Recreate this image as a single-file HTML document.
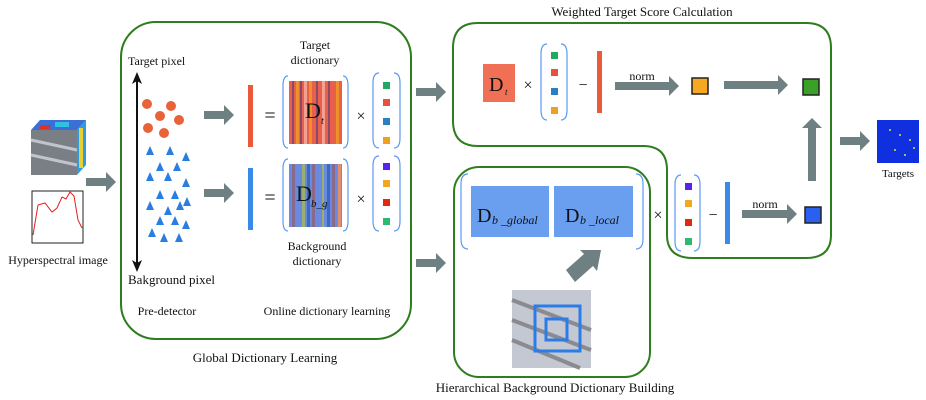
<!DOCTYPE html>
<html><head><style>body{margin:0;background:#fff}svg{display:block}text{font-family:"Liberation Serif",serif;fill:#111}</style></head><body>
<svg width="926" height="400" viewBox="0 0 926 400" xmlns="http://www.w3.org/2000/svg">
<defs>
<marker id="ah" markerUnits="userSpaceOnUse" markerWidth="12" markerHeight="10" refX="6" refY="5" orient="auto-start-reverse"><path d="M0,0L12,5L0,10L3,5z" fill="#111"/></marker>
<g id="ga"><path d="M0,-4H20V-10L30,0L20,10V4H0z" fill="#6f8083"/></g>
</defs>
<!-- left image -->
<rect x="31" y="130" width="46" height="45" fill="#7a7f86"/>
<path d="M31,130L40,120H86L77,130z" fill="#3b6fd8"/>
<path d="M77,130L86,120V165L77,175z" fill="#2f9be0"/>
<rect x="40" y="125" width="10" height="4" fill="#e03020"/>
<rect x="55" y="122" width="14" height="5" fill="#30c0e0"/>
<rect x="79" y="128" width="4" height="40" fill="#e8d030"/>
<path d="M31,140L77,150M31,155L77,165" stroke="#c0c4cc" stroke-width="3"/>
<rect x="32" y="191" width="51" height="52" fill="none" stroke="#222" stroke-width="1"/>
<polyline points="33,235 38,205 45,203 52,212 57,208 62,197 66,199 70,192 74,196 78,220 82,228" fill="none" stroke="#e02020" stroke-width="1"/>
<text x="58" y="264" font-size="12" text-anchor="middle">Hyperspectral image</text>
<use href="#ga" x="86" y="182"/>
<!-- global box -->
<rect x="121" y="22" width="290" height="317" rx="35" fill="none" stroke="#2e7d1e" stroke-width="2"/>
<text x="265" y="362" font-size="13" text-anchor="middle">Global Dictionary Learning</text>
<line x1="137" y1="78" x2="137" y2="266" stroke="#111" stroke-width="2" marker-start="url(#ah)" marker-end="url(#ah)"/>
<text x="128" y="65" font-size="12">Target pixel</text>
<text x="128" y="284" font-size="13">Bakground pixel</text>
<g fill="#e8623a"><circle cx="147" cy="104" r="5"/><circle cx="171" cy="106" r="5"/><circle cx="160" cy="116" r="5"/><circle cx="179" cy="120" r="5"/><circle cx="148" cy="128" r="5"/><circle cx="164" cy="133" r="5"/></g>
<g fill="#2a7de1">
<path d="M150,146l4,9h-8z M170,146l4,9h-8z M186,152l4,9h-8z M160,162l4,9h-8z M177,162l4,9h-8z M150,172l4,9h-8z M168,172l4,9h-8z M186,178l4,9h-8z M160,190l4,9h-8z M175,190l4,9h-8z M187,197l4,9h-8z M150,201l4,9h-8z M168,206l4,9h-8z M180,201l4,9h-8z M160,216l4,9h-8z M175,216l4,9h-8z M186,220l4,9h-8z M152,228l4,9h-8z M164,233l4,9h-8z M179,233l4,9h-8z"/></g>
<use href="#ga" x="204" y="115"/><use href="#ga" x="204" y="193"/>
<rect x="248" y="85" width="5" height="62" fill="#ea5a3a"/>
<rect x="248" y="168" width="5" height="62" fill="#3a8ae8"/>
<text x="270" y="122" font-size="20" text-anchor="middle">=</text>
<text x="270" y="204" font-size="20" text-anchor="middle">=</text>
<g>
<rect x="289" y="81" width="53" height="63" fill="#e8604a"/>
<g fill="#8a4a70"><rect x="292" y="81" width="2" height="63"/><rect x="300" y="81" width="2" height="63"/><rect x="316" y="81" width="2" height="63"/><rect x="328" y="81" width="2" height="63"/></g>
<g fill="#f0902a"><rect x="296" y="81" width="3" height="63"/><rect x="309" y="81" width="3" height="63"/><rect x="336" y="81" width="3" height="63"/></g>
<g fill="#f4a090"><rect x="304" y="81" width="3" height="63"/><rect x="322" y="81" width="3" height="63"/></g>
<rect x="289" y="164" width="53" height="63" fill="#6a8ae0"/>
<g fill="#8a6a8a"><rect x="292" y="164" width="3" height="63"/><rect x="312" y="164" width="3" height="63"/><rect x="332" y="164" width="3" height="63"/></g>
<g fill="#9ab070"><rect x="302" y="164" width="3" height="63"/><rect x="322" y="164" width="2" height="63"/></g>
<g fill="#3a6ac0"><rect x="307" y="164" width="3" height="63"/><rect x="327" y="164" width="3" height="63"/></g>
<g fill="#e09070"><rect x="338" y="164" width="3" height="63"/></g>
</g>
<g fill="none" stroke="#5a9af0" stroke-width="1.2">
<path d="M288,76q-5,0 -5,10v52q0,10 5,10 M343,76q5,0 5,10v52q0,10 -5,10"/>
<path d="M288,159q-5,0 -5,10v52q0,10 5,10 M343,159q5,0 5,10v52q0,10 -5,10"/>
<path d="M379,73q-6,0 -6,10v55q0,10 6,10 M394,73q6,0 6,10v55q0,10 -6,10"/>
<path d="M379,156q-6,0 -6,10v55q0,10 6,10 M394,156q6,0 6,10v55q0,10 -6,10"/>
</g>
<text x="305" y="118" font-size="22">D</text><text x="321" y="124" font-size="10" font-style="italic">t</text>
<text x="296" y="201" font-size="22">D</text><text x="311" y="207" font-size="11" font-style="italic">b_g</text>
<text x="361" y="121" font-size="16" text-anchor="middle">×</text>
<text x="361" y="204" font-size="16" text-anchor="middle">×</text>
<rect x="383" y="82" width="7" height="7" fill="#22a860"/><rect x="383" y="99" width="7" height="7" fill="#e85040"/><rect x="383" y="118" width="7" height="7" fill="#2a80c0"/><rect x="383" y="137" width="7" height="7" fill="#f0a020"/>
<rect x="383" y="163" width="7" height="7" fill="#5a20f0"/><rect x="383" y="180" width="7" height="7" fill="#f0a820"/><rect x="383" y="199" width="7" height="7" fill="#e02a10"/><rect x="383" y="218" width="7" height="7" fill="#30b870"/>
<text x="315" y="49" font-size="12" text-anchor="middle">Target</text>
<text x="315" y="64" font-size="12" text-anchor="middle">dictionary</text>
<text x="317" y="250" font-size="12" text-anchor="middle">Background</text>
<text x="317" y="265" font-size="12" text-anchor="middle">dictionary</text>
<text x="167" y="315" font-size="12" text-anchor="middle">Pre-detector</text>
<text x="327" y="315" font-size="12" text-anchor="middle">Online dictionary learning</text>
<use href="#ga" x="416" y="92"/><use href="#ga" x="416" y="263"/>
<!-- weighted box -->
<path d="M478,23H806Q831,23 831,48V235Q831,258 806,258H693Q667,258 667,235V170Q667,146 643,146H478Q453,146 453,121V48Q453,23 478,23z" fill="none" stroke="#2e7d1e" stroke-width="2"/>
<text x="642" y="16" font-size="13" text-anchor="middle">Weighted Target Score Calculation</text>
<rect x="483" y="64" width="32" height="38" fill="#f07055"/>
<text x="489" y="91" font-size="20">D</text><text x="505" y="95" font-size="9" font-style="italic">t</text>
<text x="528" y="90" font-size="16" text-anchor="middle">×</text>
<g fill="none" stroke="#5a9af0" stroke-width="1.2">
<path d="M547,44q-6,0 -6,10v56q0,10 6,10 M561,44q6,0 6,10v56q0,10 -6,10"/>
<path d="M681,175q-6,0 -6,10v56q0,10 6,10 M694,175q6,0 6,10v56q0,10 -6,10"/>
<path d="M468,174q-7,0 -7,10v55q0,10 7,10 M636,174q7,0 7,10v55q0,10 -7,10"/>
</g>
<rect x="551" y="52" width="7" height="7" fill="#22a860"/><rect x="551" y="69" width="7" height="7" fill="#e85040"/><rect x="551" y="88" width="7" height="7" fill="#2a80c0"/><rect x="551" y="107" width="7" height="7" fill="#f0a020"/>
<text x="583" y="90" font-size="16" text-anchor="middle">−</text>
<rect x="597" y="51" width="5" height="62" fill="#ea5a3a"/>
<path d="M615,82H669V76L679,86L669,96V90H615z" fill="#6f8083"/>
<text x="642" y="80" font-size="12" text-anchor="middle">norm</text>
<rect x="692" y="78" width="16" height="16" fill="#f5a820" stroke="#222" stroke-width="1.5"/>
<path d="M724,81H778V75L788,85L778,95V89H724z" fill="#6f8083"/>
<rect x="803" y="79" width="16" height="16" fill="#3aa028" stroke="#222" stroke-width="1.5"/>
<path d="M808,181V128H802L812,118L822,128H816V181z" fill="#6f8083"/>
<text x="658" y="220" font-size="16" text-anchor="middle">×</text>
<rect x="685" y="183" width="7" height="7" fill="#5a20f0"/><rect x="685" y="200" width="7" height="7" fill="#f0a820"/><rect x="685" y="219" width="7" height="7" fill="#e02a10"/><rect x="685" y="238" width="7" height="7" fill="#30b870"/>
<text x="713" y="220" font-size="16" text-anchor="middle">−</text>
<rect x="725" y="182" width="5" height="62" fill="#3a8ae8"/>
<path d="M742,210H787V204L797,214L787,224V218H742z" fill="#6f8083"/>
<text x="765" y="208" font-size="12" text-anchor="middle">norm</text>
<rect x="805" y="207" width="16" height="16" fill="#2a60f0" stroke="#222" stroke-width="1.5"/>
<!-- hier box -->
<rect x="454" y="167" width="196" height="210" rx="25" fill="none" stroke="#2e7d1e" stroke-width="2"/>
<text x="555" y="392" font-size="13" text-anchor="middle">Hierarchical Background Dictionary Building</text>
<rect x="471" y="186" width="78" height="51" fill="#6a9eef"/>
<rect x="554" y="186" width="79" height="51" fill="#6a9eef"/>
<text x="477" y="222" font-size="20">D</text><text x="492" y="224" font-size="12" font-style="italic">b _global</text>
<text x="565" y="222" font-size="20">D</text><text x="580" y="224" font-size="12" font-style="italic">b _local</text>
<path d="M566,270L584,254L580,250L601,250L597,271L593,266L575,282z" fill="#6f8083"/>
<rect x="512" y="290" width="79" height="78" fill="#c4c8d2"/>
<path d="M512,300L591,330M512,320L591,350M512,340L580,368" stroke="#8a8a90" stroke-width="4"/>
<rect x="535" y="306" width="45" height="45" fill="none" stroke="#2a7de8" stroke-width="3"/>
<rect x="546" y="319" width="21" height="21" fill="none" stroke="#2a7de8" stroke-width="3"/>
<!-- targets -->
<path d="M840,137H860V131L870,141L860,151V145H840z" fill="#6f8083"/>
<rect x="877" y="120" width="42" height="43" fill="#1030e0"/>
<g fill="#e0e040"><circle cx="890" cy="130" r="1"/><circle cx="900" cy="135" r="1"/><circle cx="910" cy="140" r="1"/><circle cx="895" cy="150" r="1"/><circle cx="905" cy="155" r="1"/><circle cx="914" cy="148" r="1"/></g>
<text x="898" y="177" font-size="11" text-anchor="middle">Targets</text>
</svg>
</body></html>
